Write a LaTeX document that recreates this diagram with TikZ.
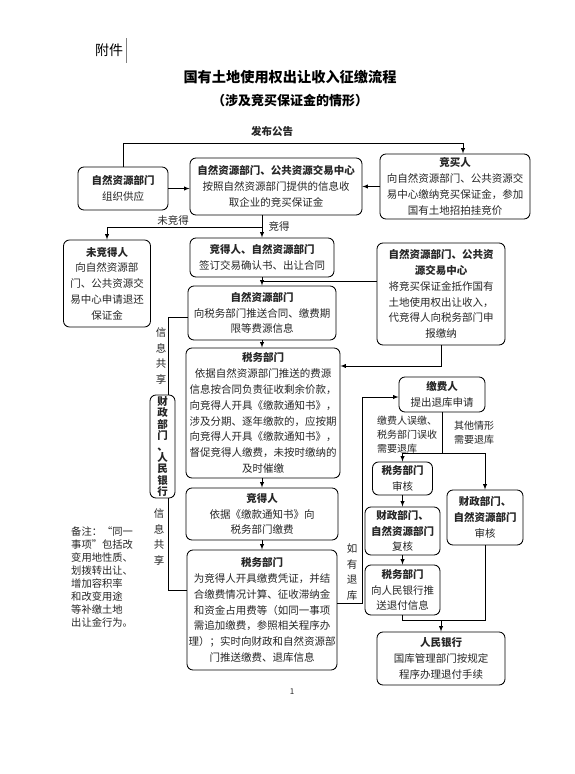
\documentclass[tikz,border=0pt]{standalone}
\usepackage{fontspec}
\setmainfont{Noto Sans CJK SC}
\usepackage{tikz}
\usetikzlibrary{arrows}
\usetikzlibrary{calc}
\tikzstyle{bx} = [rectangle, draw, rounded corners=6pt, line width=0.85pt, align=center, inner sep=0pt, text=black!85, font=\fontsize{10.5}{15.8}\selectfont]
\tikzstyle{lbl} = [inner sep=0pt, text=black!85, font=\fontsize{10.5}{15.5}\selectfont]
\tikzstyle{ln} = [line width=0.85pt]

\begin{document}
\begin{tikzpicture}[x=1pt,y=-1pt]
				\useasboundingbox[fill=white] (0,0) rectangle (574,774);
				\node (att) at (109,50) {\fontsize{14}{14}\selectfont 附件};
				\draw[gray, line width=0.5pt] (att.east) ++(0,-12) -- ++(0,25);
				\node (ttl) at (290,77) {\fontsize{14.2}{14}\selectfont\textbf{国有土地使用权出让收入征缴流程}};
				\node (sub) at (290,101) {\fontsize{13}{13}\selectfont\textbf{（涉及竞买保证金的情形）}};
				%%%%%%%%%%%%%%%%%%%%%%%%%%%%%%%%%%
				\node[bx, minimum width=90pt, minimum height=43pt] (org) at (123,188.5) {\textbf{自然资源部门}\\组织供应};
				\node[bx, minimum width=172pt, minimum height=57pt] (center2) at (276,186.5) {\textbf{自然资源部门、公共资源交易中心}\\按照自然资源部门提供的信息收\\取企业的竞买保证金};
				\node[bx, minimum width=150pt, minimum height=65pt] (bidder) at (455,186.5) {\textbf{竞买人}\\向自然资源部门、公共资源交\\易中心缴纳竞买保证金，参加\\国有土地招拍挂竞价};
				\node[bx, minimum width=87pt, minimum height=87pt] (loser) at (107,283.5) {\textbf{未竞得人}\\向自然资源部\\门、公共资源交\\易中心申请退还\\保证金};
				\node[bx, minimum width=144pt, minimum height=39pt] (winner) at (262,257.5) {\textbf{竞得人、自然资源部门}\\签订交易确认书、出让合同};
				\node[bx, minimum width=128pt, minimum height=102pt] (deposit) at (441,294) {\textbf{自然资源部门、公共资}\\\textbf{源交易中心}\\将竞买保证金抵作国有\\土地使用权出让收入，\\代竞得人向税务部门申\\报缴纳};
				\node[bx, minimum width=148pt, minimum height=54pt] (push) at (262,313) {\textbf{自然资源部门}\\向税务部门推送合同、缴费期\\限等费源信息};
				\node[bx, minimum width=154pt, minimum height=130pt] (tax1) at (263,413) {\textbf{税务部门}\\依据自然资源部门推送的费源\\信息按合同负责征收剩余价款，\\向竞得人开具《缴款通知书》，\\涉及分期、逐年缴款的，应按期\\向竞得人开具《缴款通知书》，\\督促竞得人缴费，未按时缴纳的\\及时催缴};
				\node[bx, minimum width=25pt, minimum height=103pt, font=\fontsize{10.5}{11.2}\selectfont] (finance) at (162.5,446.5) {\textbf{财}\\\textbf{政}\\\textbf{部}\\\textbf{门}\\\textbf{、}\\\textbf{人}\\\textbf{民}\\\textbf{银}\\\textbf{行}};
				\node[bx, minimum width=152pt, minimum height=52pt] (payer) at (262,514) {\textbf{竞得人}\\依据《缴款通知书》向\\税务部门缴费};
				\node[bx, minimum width=150pt, minimum height=120pt] (tax2) at (262,610) {\textbf{税务部门}\\为竞得人开具缴费凭证，并结\\合缴费情况计算、征收滞纳金\\和资金占用费等（如同一事项\\需追加缴费，参照相关程序办\\理）；实时向财政和自然资源部\\门推送缴费、退库信息};
				\node[bx, minimum width=86pt, minimum height=35pt] (refundapp) at (442,394.5) {\textbf{缴费人}\\提出退库申请};
				\node[bx, minimum width=60pt, minimum height=33pt] (taxaudit) at (402.5,478.5) {\textbf{税务部门}\\审核};
				\node[bx, minimum width=75pt, minimum height=48pt] (recheck) at (402.5,531) {\textbf{财政部门、}\\\textbf{自然资源部门}\\复核};
				\node[bx, minimum width=75pt, minimum height=50pt] (notify) at (402.5,590) {\textbf{税务部门}\\向人民银行推\\送退付信息};
				\node[bx, minimum width=76pt, minimum height=55pt] (audit2) at (485,517.5) {\textbf{财政部门、}\\\textbf{自然资源部门}\\审核};
				\node[bx, minimum width=128pt, minimum height=53pt] (bank) at (441,658.5) {\textbf{人民银行}\\国库管理部门按规定\\程序办理退付手续};
				%%%%%%%%%%%%%%%%%%%%%%%%%%%%%%%%%%
				\node[lbl] (pub) at (272,131) {\textbf{发布公告}};
				\node[lbl] (nowin) at (173,220) {未竞得};
				\node[lbl] (win) at (279,226) {竞得};
				\node[lbl, align=center] (share1) at (161,356) {信\\息\\共\\享};
				\node[lbl, align=center] (share2) at (159,537) {信\\息\\共\\享};
				\node[lbl, align=center] (ifref) at (352,572) {如\\有\\退\\库};
				\node[lbl, align=left, anchor=west, font=\fontsize{10}{14}\selectfont] (case1) at (377,435) {缴费人误缴、\\税务部门误收\\需要退库};
				\node[lbl, align=left, font=\fontsize{10}{14}\selectfont] (case2) at (474,433) {其他情形\\需要退库};
				\node[lbl, align=left, anchor=north west, font=\fontsize{10.3}{12.9}\selectfont] (note) at (71,527) {备注：“同一\\事项”包括改\\变用地性质、\\划拨转出让、\\增加容积率\\和改变用途\\等补缴土地\\出让金行为。};
				\node[lbl, font=\fontsize{8}{8}\selectfont] (pg) at (292,692) {1};
				%%%%%%%%%%%%%%%%%%%%%%%%%%%%%%%%%%
				\coordinate (p2) at (463,143);
				\coordinate (s1) at (262,227);
				\coordinate (s2) at (262,281);
				\coordinate (d1) at (441,366);
				\coordinate (f1) at (168,317);
				\coordinate (f2) at (168,590);
				\coordinate (r1) at (362,603);
				\coordinate (r2) at (362,397);
				\coordinate (q1) at (442,453);
				\coordinate (m1) at (441,620);
				%%%%%%%%%%%%%%%%%%%%%%%%%%%%%%%%%%
				\draw[ln, -latex] (org.north) |- (p2) -- (p2 |- bidder.north);
				\draw[ln, -latex] (org.east) -- (org.east -| center2.west);
				\draw[ln, -latex] (bidder.west) -- (bidder.west -| center2.east);
				\draw[ln] (s1 |- center2.south) -- (s1);
				\draw[ln, -latex] (s1) -- (s1 |- winner.north);
				\draw[ln, -latex] (s1) -| (loser.north);
				\draw[ln, -latex] (winner.south) -- (push.north);
				\draw[ln] (s2 -| deposit.west) -- (s2);
				\draw[ln, -latex] (push.south) -- (push.south |- tax1.north);
				\draw[ln, -latex] (deposit.south) -- (d1) -- (d1 -| tax1.east);
				\draw[ln, -latex] (tax1.south -| payer.north) -- (payer.north);
				\draw[ln, -latex] (payer.south) -- (tax2.north);
				\draw[ln] (f1 |- finance.north) -- (f1) -- (f1 -| push.west);
				\draw[ln] (f2 |- finance.south) -- (f2) -- (f2 -| tax2.west);
				\draw[ln, -latex] (r1 -| tax2.east) -- (r1) -- (r2) -- (r2 -| refundapp.west);
				\draw[ln] (refundapp.south) -- (q1);
				\draw[ln, -latex] (q1) -| (taxaudit.north);
				\draw[ln, -latex] (q1) -| (audit2.north);
				\draw[ln, -latex] (taxaudit.south) -- (recheck.north);
				\draw[ln, -latex] (recheck.south) -- (notify.north);
				\draw[ln] (notify.south) |- (m1);
				\draw[ln] (audit2.south) |- (m1);
				\draw[ln, -latex] (m1) -- (bank.north);
			\end{tikzpicture}
\end{document}
